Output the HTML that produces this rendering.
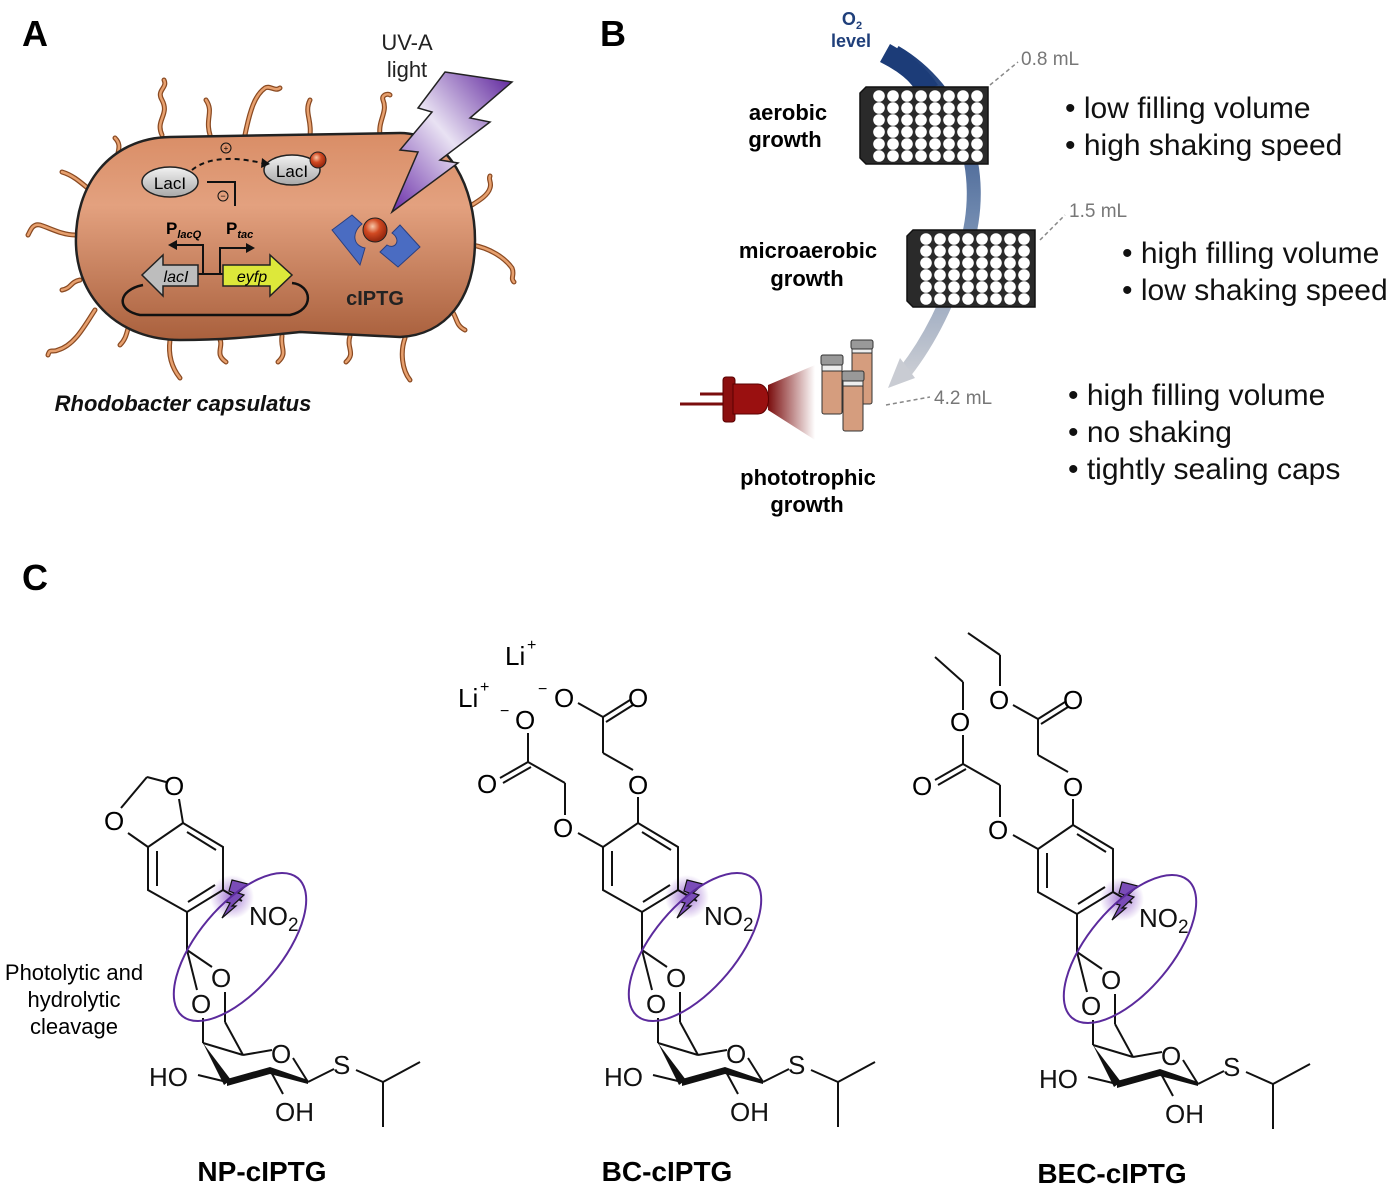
<!DOCTYPE html>
<html><head><meta charset="utf-8"><style>
html,body{margin:0;padding:0;background:#fff;}
svg{display:block;font-family:"Liberation Sans",Arial,sans-serif;}
</style></head><body>
<svg width="1397" height="1190" viewBox="0 0 1397 1190" xmlns="http://www.w3.org/2000/svg">
<defs>
<linearGradient id="cell" x1="0" y1="0" x2="0" y2="1"><stop offset="0" stop-color="#d98d66"/><stop offset="0.35" stop-color="#e3a17f"/><stop offset="1" stop-color="#a9603d"/></linearGradient>
<linearGradient id="bolt" x1="1" y1="0" x2="0" y2="1"><stop offset="0" stop-color="#5a1f9a"/><stop offset="0.5" stop-color="#e9e2f3"/><stop offset="1" stop-color="#6a2ea8"/></linearGradient>
<radialGradient id="ball" cx="0.4" cy="0.35" r="0.6"><stop offset="0" stop-color="#f7c7a8"/><stop offset="0.5" stop-color="#d24a22"/><stop offset="1" stop-color="#9a2a10"/></radialGradient>
<radialGradient id="glow" cx="0.5" cy="0.5" r="0.5"><stop offset="0" stop-color="#7a3cc0" stop-opacity="0.7"/><stop offset="1" stop-color="#7a3cc0" stop-opacity="0"/></radialGradient>
<linearGradient id="o2" x1="0" y1="0" x2="0" y2="1"><stop offset="0" stop-color="#1c3c78"/><stop offset="0.5" stop-color="#6c86ad"/><stop offset="1" stop-color="#c9ccd3"/></linearGradient>
<linearGradient id="cone" x1="0" y1="0" x2="1" y2="0"><stop offset="0" stop-color="#7a0d0d"/><stop offset="1" stop-color="#7a0d0d" stop-opacity="0"/></linearGradient>
<linearGradient id="gray" x1="0" y1="0" x2="0" y2="1"><stop offset="0" stop-color="#f2f2f2"/><stop offset="1" stop-color="#a8a8a8"/></linearGradient>
</defs>

<text x="22" y="46" font-size="36" font-weight="bold">A</text>
<text x="600" y="46" font-size="36" font-weight="bold">B</text>
<text x="22" y="590" font-size="36" font-weight="bold">C</text>

<!-- ===== Panel A ===== -->
<g fill="none" stroke="#8a4a22" stroke-width="5" stroke-linecap="round">
<path d="M162,135 C155,120 170,115 162,100 C156,90 168,88 164,80"/>
<path d="M210,135 C205,118 214,112 206,100"/>
<path d="M245,135 C250,110 255,95 265,88 C270,85 275,92 280,88"/>
<path d="M310,135 C312,120 304,112 310,100"/>
<path d="M380,135 C378,120 388,112 383,100 C381,95 388,93 390,95"/>
<path d="M120,168 C112,155 125,148 115,138"/>
<path d="M90,190 C78,180 72,175 62,172"/>
<path d="M75,235 C62,235 50,228 40,225 C32,223 30,232 28,235"/>
<path d="M80,280 C70,282 72,288 62,290"/>
<path d="M95,310 C85,325 75,345 58,350 C52,353 50,348 48,355"/>
<path d="M135,318 C125,325 130,335 120,345"/>
<path d="M170,340 C168,355 172,368 180,378"/>
<path d="M218,336 C226,346 213,353 226,362"/>
<path d="M282,336 C280,348 288,353 278,362"/>
<path d="M350,336 C346,348 356,353 346,362"/>
<path d="M405,338 C400,352 402,370 410,380"/>
<path d="M450,308 C458,318 455,325 465,330"/>
<path d="M472,245 C490,248 505,258 512,268 C515,275 510,278 514,282"/>
<path d="M472,205 C480,200 488,195 490,188 C492,182 488,180 490,176"/>
</g>
<g fill="none" stroke="#e7a06e" stroke-width="2.5" stroke-linecap="round">
<path d="M162,135 C155,120 170,115 162,100 C156,90 168,88 164,80"/>
<path d="M210,135 C205,118 214,112 206,100"/>
<path d="M245,135 C250,110 255,95 265,88 C270,85 275,92 280,88"/>
<path d="M310,135 C312,120 304,112 310,100"/>
<path d="M380,135 C378,120 388,112 383,100 C381,95 388,93 390,95"/>
<path d="M120,168 C112,155 125,148 115,138"/>
<path d="M90,190 C78,180 72,175 62,172"/>
<path d="M75,235 C62,235 50,228 40,225 C32,223 30,232 28,235"/>
<path d="M80,280 C70,282 72,288 62,290"/>
<path d="M95,310 C85,325 75,345 58,350 C52,353 50,348 48,355"/>
<path d="M135,318 C125,325 130,335 120,345"/>
<path d="M170,340 C168,355 172,368 180,378"/>
<path d="M218,336 C226,346 213,353 226,362"/>
<path d="M282,336 C280,348 288,353 278,362"/>
<path d="M350,336 C346,348 356,353 346,362"/>
<path d="M405,338 C400,352 402,370 410,380"/>
<path d="M450,308 C458,318 455,325 465,330"/>
<path d="M472,245 C490,248 505,258 512,268 C515,275 510,278 514,282"/>
<path d="M472,205 C480,200 488,195 490,188 C492,182 488,180 490,176"/>
</g>
<path d="M170,137 L400,133 C450,133 475,190 475,240 C475,300 445,335 400,337 L300,332 C260,336 230,340 180,340 C120,340 78,300 76,245 C74,185 110,138 170,137 Z" fill="url(#cell)" stroke="#222" stroke-width="2.5"/>

<ellipse cx="170" cy="182" rx="28" ry="15" fill="url(#gray)" stroke="#222" stroke-width="1.5"/>
<text x="170" y="189" font-size="17" text-anchor="middle">LacI</text>
<ellipse cx="292" cy="170" rx="28" ry="15" fill="url(#gray)" stroke="#222" stroke-width="1.5"/>
<text x="292" y="177" font-size="17" text-anchor="middle">LacI</text>
<circle cx="318" cy="160" r="8" fill="url(#ball)" stroke="#222" stroke-width="1"/>
<path d="M192,170 C210,155 240,158 262,163" fill="none" stroke="#111" stroke-width="2" stroke-dasharray="5,4"/>
<polygon points="262,158 270,164 261,168" fill="#111"/>
<circle cx="226" cy="148" r="5" fill="none" stroke="#111" stroke-width="1"/><text x="226" y="151" font-size="8" text-anchor="middle">+</text>
<path d="M207,182 L235,182 L235,206" fill="none" stroke="#111" stroke-width="2"/>
<circle cx="223" cy="196" r="5" fill="none" stroke="#111" stroke-width="1"/><text x="223" y="199" font-size="9" text-anchor="middle">−</text>

<text x="166" y="234" font-size="17" font-weight="bold">P<tspan font-size="11" font-style="italic" dy="4">lacQ</tspan></text>
<text x="226" y="234" font-size="17" font-weight="bold">P<tspan font-size="11" font-style="italic" dy="4">tac</tspan></text>
<path d="M203,275 L203,245 L175,245 M220,275 L220,248 L248,248 M197,274 L225,274" fill="none" stroke="#111" stroke-width="2"/>
<polygon points="177,240 168,245 177,250" fill="#111"/>
<polygon points="246,243 255,248 246,253" fill="#111"/>
<path d="M143,285 C118,290 115,310 140,315 L290,315 C315,310 312,285 292,283" fill="none" stroke="#111" stroke-width="2.5"/>
<polygon points="198,265 163,265 163,255 142,275 163,296 163,286 198,286" fill="#bdbdbd" stroke="#222" stroke-width="1.5"/>
<text x="176" y="282" font-size="16" font-style="italic" text-anchor="middle">lacI</text>
<polygon points="223,265 270,265 270,255 292,275 270,296 270,286 223,286" fill="#dde83a" stroke="#222" stroke-width="1.5"/>
<text x="252" y="282" font-size="16" font-style="italic" text-anchor="middle">eyfp</text>

<path d="M332,230 L352,215 L362,224 C352,232 352,245 365,248 L360,265 Z" fill="#4a6cc2" stroke="#2a3f80" stroke-width="1"/>
<path d="M392,233 L400,225 L420,247 L398,267 L380,252 L387,245 C395,250 402,240 392,233 Z" fill="#4a6cc2" stroke="#2a3f80" stroke-width="1"/>
<circle cx="375" cy="230" r="12" fill="url(#ball)" stroke="#222" stroke-width="1"/>
<text x="375" y="305" font-size="20" font-weight="bold" text-anchor="middle" fill="#222">cIPTG</text>

<text x="407" y="50" font-size="22" text-anchor="middle" fill="#222">UV-A</text>
<text x="407" y="77" font-size="22" text-anchor="middle" fill="#222">light</text>
<polygon points="445,72 512,82 470,118 490,122 440,160 458,163 392,212 418,152 400,150 432,112 418,108" fill="url(#bolt)" stroke="#222" stroke-width="1.5"/>
<text x="183" y="411" font-size="22" font-weight="bold" font-style="italic" text-anchor="middle" fill="#111">Rhodobacter capsulatus</text>

<!-- ===== Panel B ===== -->
<text x="852" y="25" font-size="18" font-weight="bold" fill="#1f3f7a" text-anchor="middle">O<tspan font-size="11" dy="4">2</tspan></text>
<text x="851" y="47" font-size="18" font-weight="bold" fill="#1f3f7a" text-anchor="middle">level</text>
<path d="M895,52 C960,90 990,170 965,250 C950,300 930,340 905,372" fill="none" stroke="url(#o2)" stroke-width="14"/>
<path d="M890,44 C915,58 928,70 938,85 L918,95 C912,82 900,72 880,62 Z" fill="#1c3c78"/>
<polygon points="888,388 915,378 900,358" fill="#c9ccd3"/>

<g>
<path d="M866,87 L988,87 L988,164 L866,164 L860,158 L860,93 Z" fill="#2a2a2a" stroke="#111" stroke-width="1.5"/>
<g fill="#fff">
<g id="row1">
<circle cx="879" cy="96" r="5.8"/><circle cx="893" cy="96" r="5.8"/><circle cx="907" cy="96" r="5.8"/><circle cx="921" cy="96" r="5.8"/><circle cx="935" cy="96" r="5.8"/><circle cx="949" cy="96" r="5.8"/><circle cx="963" cy="96" r="5.8"/><circle cx="977" cy="96" r="5.8"/>
</g>
<use href="#row1" y="12"/><use href="#row1" y="24"/><use href="#row1" y="36"/><use href="#row1" y="48"/><use href="#row1" y="60"/>
</g>
</g>
<g transform="translate(47,143)">
<path d="M866,87 L988,87 L988,164 L866,164 L860,158 L860,93 Z" fill="#2a2a2a" stroke="#111" stroke-width="1.5"/>
<g fill="#fff">
<use href="#row1"/><use href="#row1" y="12"/><use href="#row1" y="24"/><use href="#row1" y="36"/><use href="#row1" y="48"/><use href="#row1" y="60"/>
</g>
</g>
<g font-weight="bold" text-anchor="middle" font-size="22">
<text x="788" y="120">aerobic</text>
<text x="785" y="147">growth</text>
<text x="808" y="258">microaerobic</text>
<text x="807" y="286">growth</text>
<text x="808" y="485">phototrophic</text>
<text x="807" y="512">growth</text>
</g>

<g stroke="#888" stroke-width="1.5" stroke-dasharray="4,3" fill="none">
<line x1="990" y1="85" x2="1018" y2="62"/>
<line x1="1040" y1="240" x2="1065" y2="215"/>
<line x1="886" y1="405" x2="930" y2="397"/>
</g>
<text x="1021" y="65" font-size="19" fill="#777">0.8 mL</text>
<text x="1069" y="217" font-size="19" fill="#777">1.5 mL</text>
<text x="934" y="404" font-size="19" fill="#777">4.2 mL</text>

<polygon points="768,385 815,365 815,440 768,410" fill="url(#cone)"/>
<line x1="680" y1="404" x2="730" y2="404" stroke="#7a0d0d" stroke-width="3"/>
<line x1="700" y1="394" x2="730" y2="394" stroke="#7a0d0d" stroke-width="3"/>
<rect x="723" y="377" width="12" height="45" rx="3" fill="#8b0f0f" stroke="#5a0000"/>
<path d="M733,384 L758,384 C772,384 772,414 758,414 L733,414 Z" fill="#9a1010" stroke="#5a0000"/>

<g stroke="#333" stroke-width="1">
<rect x="852" y="352" width="20" height="52" rx="2" fill="#d59d7e"/><rect x="852" y="345" width="20" height="8" fill="#eee"/><rect x="851" y="340" width="22" height="9" rx="2" fill="#999"/>
<rect x="822" y="370" width="20" height="44" rx="2" fill="#d59d7e"/><rect x="822" y="364" width="20" height="7" fill="#eee"/><rect x="821" y="355" width="22" height="10" rx="2" fill="#999"/>
<rect x="843" y="385" width="20" height="46" rx="2" fill="#d59d7e"/><rect x="843" y="380" width="20" height="6" fill="#eee"/><rect x="842" y="371" width="22" height="10" rx="2" fill="#999"/>
</g>

<g font-size="30" fill="#111">
<text x="1065" y="118">• low filling volume</text>
<text x="1065" y="155">• high shaking speed</text>
<text x="1122" y="263">• high filling volume</text>
<text x="1122" y="300">• low shaking speed</text>
<text x="1068" y="405">• high filling volume</text>
<text x="1068" y="442">• no shaking</text>
<text x="1068" y="479">• tightly sealing caps</text>
</g>

<!-- ===== Panel C ===== -->
<g font-size="22" text-anchor="middle">
<text x="74" y="980">Photolytic and</text>
<text x="74" y="1007">hydrolytic</text>
<text x="74" y="1034">cleavage</text>
</g>

<g id="core">
<circle cx="232" cy="897" r="22" fill="url(#glow)"/>
<g fill="none" stroke="#111" stroke-width="2">
<polygon points="183,823 223,847 223,890 187,912 148,890 148,847"/>
<line x1="187" y1="832" x2="216" y2="850"/>
<line x1="215" y1="885" x2="188" y2="902"/>
<line x1="157" y1="886" x2="157" y2="851"/>
<line x1="187" y1="912" x2="187" y2="950"/>
<line x1="187" y1="950" x2="212" y2="967"/>
<line x1="187" y1="950" x2="197" y2="990"/>
<line x1="223" y1="890" x2="242" y2="901"/>
<line x1="225" y1="992" x2="225" y2="1022"/>
<line x1="225" y1="1022" x2="243" y2="1055"/>
<line x1="203" y1="1018" x2="203" y2="1043"/>
<line x1="203" y1="1043" x2="243" y2="1055"/>
<line x1="243" y1="1055" x2="272" y2="1050"/>
<line x1="293" y1="1058" x2="308" y2="1082"/>
<line x1="227" y1="1082" x2="198" y2="1075"/>
<line x1="270" y1="1070" x2="283" y2="1094"/>
<line x1="308" y1="1082" x2="334" y2="1069"/>
<line x1="356" y1="1070" x2="383" y2="1082"/>
<line x1="383" y1="1082" x2="420" y2="1062"/>
<line x1="383" y1="1082" x2="383" y2="1127"/>
</g>
<polygon points="308,1080 270,1067 227,1079 227,1086 270,1074 308,1084" fill="#111"/>
<polygon points="203,1043 224,1085 231,1080" fill="#111"/>
<polygon points="232,880 248,884 238,893 244,895 232,906 236,906 222,918 230,903 226,902 234,893 229,891" fill="#7a4cb8" stroke="#111" stroke-width="1.2"/>
<ellipse cx="240" cy="947" rx="90" ry="42" transform="rotate(-50 240 947)" fill="none" stroke="#5b2a9c" stroke-width="2"/>
<g font-size="26" fill="#111">
<text x="249" y="925">NO<tspan font-size="19" dy="6">2</tspan></text>
<text x="211" y="987">O</text>
<text x="191" y="1013">O</text>
<text x="271" y="1063">O</text>
<text x="149" y="1086">HO</text>
<text x="275" y="1121">OH</text>
<text x="333" y="1074">S</text>
</g>
</g>
<g fill="none" stroke="#111" stroke-width="2">
<line x1="148" y1="847" x2="128" y2="833"/>
<line x1="183" y1="823" x2="179" y2="799"/>
<line x1="121" y1="808" x2="147" y2="777"/>
<line x1="147" y1="777" x2="166" y2="782"/>
</g>
<g font-size="26"><text x="104" y="830">O</text><text x="164" y="795">O</text></g>
<text x="262" y="1181" font-size="28" font-weight="bold" text-anchor="middle">NP-cIPTG</text>

<use href="#core" x="455" y="0"/>
<g fill="none" stroke="#111" stroke-width="2">
<line x1="638" y1="823" x2="638" y2="797"/>
<line x1="633" y1="770" x2="603" y2="753"/>
<line x1="603" y1="753" x2="603" y2="717"/>
<line x1="603" y1="717" x2="630" y2="700"/>
<line x1="606" y1="722" x2="633" y2="705"/>
<line x1="603" y1="717" x2="578" y2="703"/>
<line x1="603" y1="847" x2="578" y2="833"/>
<line x1="565" y1="815" x2="565" y2="783"/>
<line x1="565" y1="783" x2="528" y2="762"/>
<line x1="528" y1="762" x2="500" y2="778"/>
<line x1="531" y1="767" x2="503" y2="783"/>
<line x1="528" y1="762" x2="528" y2="733"/>
</g>
<g font-size="26">
<text x="628" y="794">O</text><text x="628" y="707">O</text><text x="554" y="707">O</text><text x="538" y="694" font-size="16">−</text>
<text x="553" y="837">O</text><text x="477" y="793">O</text><text x="515" y="729">O</text><text x="500" y="716" font-size="16">−</text>
<text x="505" y="665">Li</text><text x="527" y="650" font-size="16">+</text>
<text x="458" y="707">Li</text><text x="480" y="692" font-size="16">+</text>
</g>
<text x="667" y="1181" font-size="28" font-weight="bold" text-anchor="middle">BC-cIPTG</text>

<use href="#core" x="890" y="2"/>
<g fill="none" stroke="#111" stroke-width="2">
<line x1="1073" y1="825" x2="1073" y2="799"/>
<line x1="1068" y1="772" x2="1038" y2="755"/>
<line x1="1038" y1="755" x2="1038" y2="719"/>
<line x1="1038" y1="719" x2="1065" y2="702"/>
<line x1="1041" y1="724" x2="1068" y2="707"/>
<line x1="1038" y1="719" x2="1013" y2="705"/>
<line x1="1000" y1="686" x2="1000" y2="655"/>
<line x1="1000" y1="655" x2="968" y2="633"/>
<line x1="1038" y1="849" x2="1013" y2="835"/>
<line x1="1000" y1="817" x2="1000" y2="785"/>
<line x1="1000" y1="785" x2="963" y2="764"/>
<line x1="963" y1="764" x2="935" y2="780"/>
<line x1="966" y1="769" x2="938" y2="785"/>
<line x1="963" y1="764" x2="963" y2="735"/>
<line x1="963" y1="710" x2="963" y2="682"/>
<line x1="963" y1="682" x2="935" y2="657"/>
</g>
<g font-size="26">
<text x="1063" y="796">O</text><text x="1063" y="709">O</text><text x="989" y="709">O</text>
<text x="988" y="839">O</text><text x="912" y="795">O</text><text x="950" y="731">O</text>
</g>
<text x="1112" y="1183" font-size="28" font-weight="bold" text-anchor="middle">BEC-cIPTG</text>
</svg>
</body></html>
